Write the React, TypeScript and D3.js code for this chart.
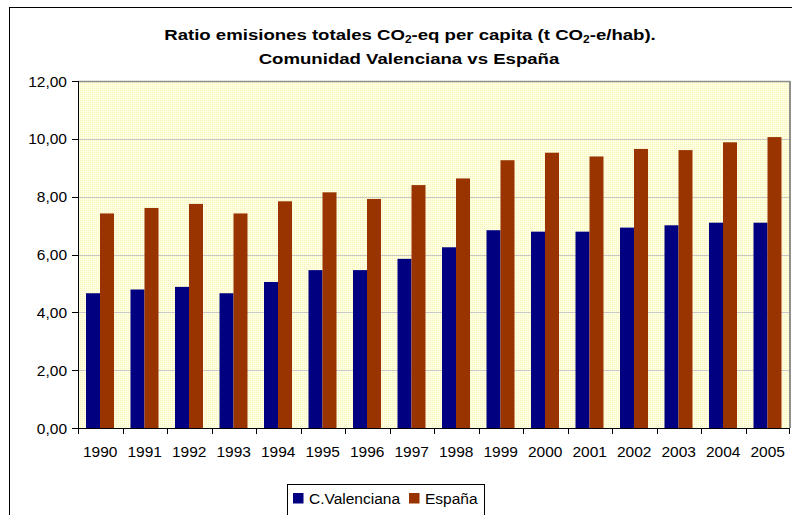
import React from "react";
import * as d3 from "d3";

const years = ["1990","1991","1992","1993","1994","1995","1996","1997","1998","1999","2000","2001","2002","2003","2004","2005"];
const valenciana = [4.66,4.79,4.88,4.66,5.05,5.46,5.46,5.85,6.25,6.84,6.79,6.79,6.93,7.01,7.10,7.10];
const espana = [7.42,7.61,7.75,7.42,7.84,8.15,7.92,8.40,8.63,9.26,9.52,9.39,9.65,9.61,9.88,10.06];
const yTicks = [0,2,4,6,8,10,12];
const seriesNames = ["C.Valenciana","España"];
const colors = ["#000080","#993300"];

const W = 792, H = 515;
const L = 78, R = 790, T = 81, B = 428;
const font = "'Liberation Sans', Arial, sans-serif";

export default function App() {
  const x = d3.scaleBand<string>().domain(years).range([L, R]).paddingInner(0).paddingOuter(0);
  const inner = d3.scaleBand<number>().domain([0,1]).range([8, 36]);
  const y = d3.scaleLinear().domain([0,12]).range([B, T]);
  const fmt = (v: number) => v.toFixed(2).replace(".", ",");
  const series = [valenciana, espana];
  return (
    <svg width={W} height={H} style={{position:"absolute", left:0, top:0}} fontFamily={font}>
      <defs>
        <pattern id="dots" width="2" height="2" patternUnits="userSpaceOnUse">
          <rect width="2" height="2" fill="#FFFFE2" />
          <rect width="1" height="1" fill="#F6F2B8" />
        </pattern>
      </defs>
      <rect x={0} y={0} width={W} height={H} fill="#fff" />
      <rect x={9.5} y={7.5} width={800} height={520} fill="none" stroke="#000" strokeWidth={1} />
      <text transform="translate(410,40) scale(1.2,1)" x={0} y={0} textAnchor="middle" fontSize={15.5} fontWeight="bold" fill="#000">
        Ratio emisiones totales CO<tspan fontSize={10} dy={3}>2</tspan><tspan dy={-3}>-eq per capita (t CO</tspan><tspan fontSize={10} dy={3}>2</tspan><tspan dy={-3}>-e/hab).</tspan>
      </text>
      <text transform="translate(409,64) scale(1.2,1)" x={0} y={0} textAnchor="middle" fontSize={15.5} fontWeight="bold" fill="#000">Comunidad Valenciana vs España</text>
      <rect x={L} y={T} width={R-L} height={B-T} fill="url(#dots)" />
      {yTicks.filter(t => t > 0).map(t => (
        <line key={t} x1={L} x2={R} y1={Math.round(y(t))+0.5} y2={Math.round(y(t))+0.5} stroke="#C8C8C8" strokeWidth={1} />
      ))}
      <line x1={L} x2={R} y1={T+0.5} y2={T+0.5} stroke="#909090" strokeWidth={1.5} />
      <line x1={R} x2={R} y1={T} y2={B} stroke="#909090" strokeWidth={2} />
      {years.map((yr, i) => (
        <g key={yr}>
          {series.map((s, k) => (
            <rect key={k} x={(x(yr) as number) + (inner(k) as number)} y={y(s[i])} width={inner.bandwidth()} height={B - y(s[i])} fill={colors[k]} />
          ))}
        </g>
      ))}
      <line x1={L+0.5} x2={L+0.5} y1={T} y2={B} stroke="#000" strokeWidth={1} />
      <line x1={L} x2={R} y1={B+0.5} y2={B+0.5} stroke="#000" strokeWidth={1} />
      {yTicks.map(t => (
        <g key={t}>
          <line x1={L-6} x2={L} y1={Math.round(y(t))+0.5} y2={Math.round(y(t))+0.5} stroke="#000" />
          <text x={67} y={y(t)+5.5} textAnchor="end" fontSize={15.5} fill="#000">{fmt(t)}</text>
        </g>
      ))}
      {years.map((yr, i) => (
        <line key={"t"+yr} x1={Math.round(x(yr) as number)+0.5} x2={Math.round(x(yr) as number)+0.5} y1={B} y2={B+6} stroke="#000" />
      ))}
      <line x1={R-0.5} x2={R-0.5} y1={B} y2={B+6} stroke="#000" />
      {years.map(yr => (
        <text key={"l"+yr} x={(x(yr) as number) + x.bandwidth()/2} y={457} textAnchor="middle" fontSize={15.5} fill="#000">{yr}</text>
      ))}
      <rect x={287.5} y={484.5} width={197} height={40} fill="#fff" stroke="#000" strokeWidth={1} />
      {seriesNames.map((n, k) => {
        const lx = k === 0 ? 293 : 409;
        return (
          <g key={n}>
            <rect x={lx} y={493} width={10.5} height={10.5} fill={colors[k]} />
            <text x={lx+16} y={504} fontSize={15.5} fill="#000">{n}</text>
          </g>
        );
      })}
    </svg>
  );
}
